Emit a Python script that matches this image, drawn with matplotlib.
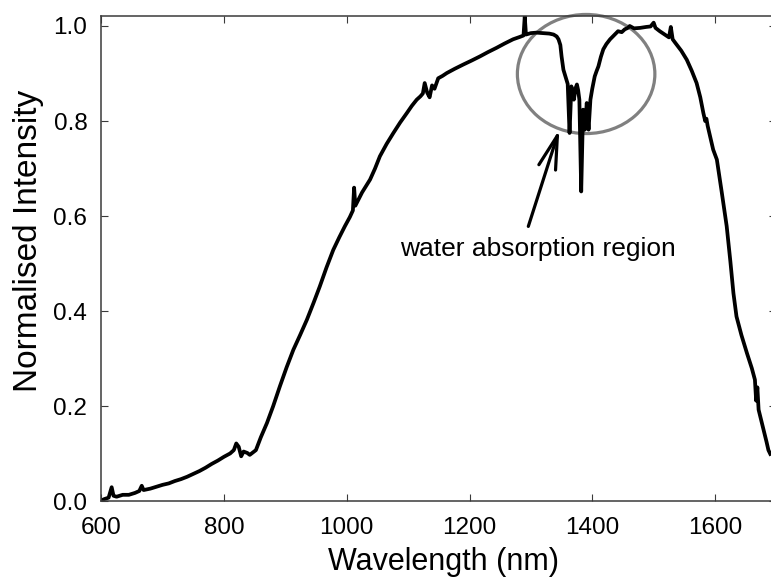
import matplotlib
matplotlib.use("Agg")
import matplotlib.pyplot as plt
from matplotlib.patches import Ellipse

plt.rcParams['font.family'] = ['Liberation Sans', 'DejaVu Sans']

wavelength = [600, 605, 612, 617, 620, 625, 635, 645, 655, 662, 666, 669, 680, 690, 700, 710, 720, 730,
              740, 750, 760, 770, 780, 790, 800, 810, 816, 820, 824, 828, 832, 838, 842, 848, 852, 860,
              870, 880, 891, 902, 913, 924, 935, 946, 956, 967, 978, 988, 997, 1005, 1010, 1012, 1014,
              1025, 1038, 1046, 1054, 1065, 1076, 1087, 1098, 1106, 1114, 1120, 1124, 1127, 1131, 1135,
              1139, 1143, 1149, 1156, 1163, 1176, 1190, 1203, 1217, 1230, 1244, 1257, 1271, 1282, 1288,
              1290, 1292, 1300, 1309, 1320, 1330, 1337, 1342, 1345, 1348, 1350, 1353, 1356, 1358, 1360,
              1363, 1366, 1368, 1370, 1373, 1375, 1377, 1379, 1382, 1385, 1388, 1391, 1394, 1397, 1400,
              1404, 1407, 1410, 1414, 1418, 1423, 1429, 1435, 1442, 1448, 1453, 1458, 1461, 1468, 1478,
              1488, 1495, 1500, 1503, 1510, 1518, 1525, 1528, 1531, 1535, 1545, 1554, 1562, 1570, 1576,
              1581, 1584, 1586, 1588, 1597, 1603, 1611, 1619, 1625, 1630, 1635, 1643, 1652, 1660, 1665,
              1667, 1669, 1671, 1679, 1684, 1687, 1690]
intensity = [0.002, 0.005, 0.008, 0.030, 0.012, 0.010, 0.014, 0.014, 0.018, 0.022, 0.033, 0.024, 0.027,
             0.031, 0.035, 0.038, 0.043, 0.047, 0.052, 0.058, 0.064, 0.071, 0.079, 0.086, 0.094, 0.101,
             0.108, 0.122, 0.115, 0.095, 0.105, 0.102, 0.098, 0.104, 0.108, 0.135, 0.165, 0.200, 0.242,
             0.282, 0.319, 0.350, 0.382, 0.418, 0.452, 0.492, 0.529, 0.556, 0.579, 0.598, 0.612, 0.660,
             0.622, 0.650, 0.677, 0.700, 0.726, 0.752, 0.775, 0.797, 0.817, 0.832, 0.845, 0.852, 0.858,
             0.880, 0.860, 0.850, 0.875, 0.868, 0.890, 0.895, 0.901, 0.910, 0.919, 0.927, 0.936, 0.945,
             0.954, 0.963, 0.972, 0.977, 0.980, 1.020, 0.982, 0.985, 0.986, 0.985, 0.984, 0.982, 0.978,
             0.972, 0.960, 0.936, 0.908, 0.895, 0.887, 0.878, 0.775, 0.873, 0.860, 0.845, 0.870, 0.877,
             0.865, 0.845, 0.652, 0.824, 0.782, 0.838, 0.782, 0.845, 0.868, 0.894, 0.905, 0.915, 0.935,
             0.951, 0.962, 0.972, 0.980, 0.989, 0.987, 0.993, 0.996, 1.000, 0.995, 0.996, 0.998, 0.999,
             1.007, 0.996, 0.989, 0.982, 0.976, 0.998, 0.972, 0.965, 0.948, 0.929, 0.906, 0.880, 0.850,
             0.817, 0.800, 0.805, 0.790, 0.740, 0.719, 0.650, 0.579, 0.505, 0.438, 0.389, 0.350, 0.312,
             0.280, 0.256, 0.212, 0.240, 0.193, 0.151, 0.125, 0.108, 0.100]

x_ticks = [600, 800, 1000, 1200, 1400, 1600]
y_ticks = [0.0, 0.2, 0.4, 0.6, 0.8, 1.0]
y_ticklabels = ['0.0', '0.2', '0.4', '0.6', '0.8', '1.0']

fig = plt.figure(figsize=(7.71, 5.78), dpi=100)
ax = fig.add_axes([0.1313, 0.1324, 0.8757, 0.8391])

ax.plot(wavelength, intensity, color='black', lw=2.7, solid_joinstyle='round', clip_on=True)

ax.set_xlim(600, 1700)
ax.set_ylim(0, 1.02)
ax.set_xticks(x_ticks)
ax.set_yticks(y_ticks)
ax.set_yticklabels(y_ticklabels)

for s in ax.spines.values():
    s.set_color('#3a3a3a')
    s.set_linewidth(1.1)

ax.tick_params(direction='in', length=5, width=0.8, color='#3a3a3a',
               top=True, right=True, labelsize=17.5, pad=10)
ax.tick_params(axis='x', pad=11)

ax.set_xlabel('Wavelength (nm)', fontsize=22, va='top')
ax.xaxis.set_label_coords(0.507, -0.094)
ax.set_ylabel('Normalised Intensity', fontsize=24, va='center')
ax.yaxis.set_label_coords(-0.108, 0.537)

ell = Ellipse((1390, 0.899), 224, 0.2505, fill=False, edgecolor='#808080', lw=2.3, clip_on=False)
ax.add_patch(ell)

ax.annotate('', xy=(1346.3, 0.782), xytext=(1295.8, 0.5785),
            arrowprops=dict(arrowstyle='->,head_length=24,head_width=6.3', mutation_scale=1,
                            color='black', lw=2.3, shrinkA=0, shrinkB=0))
ax.text(1310.8, 0.517, 'water absorption region', fontsize=19, ha='center', va='baseline')

fig.savefig('out.png', dpi=100)
